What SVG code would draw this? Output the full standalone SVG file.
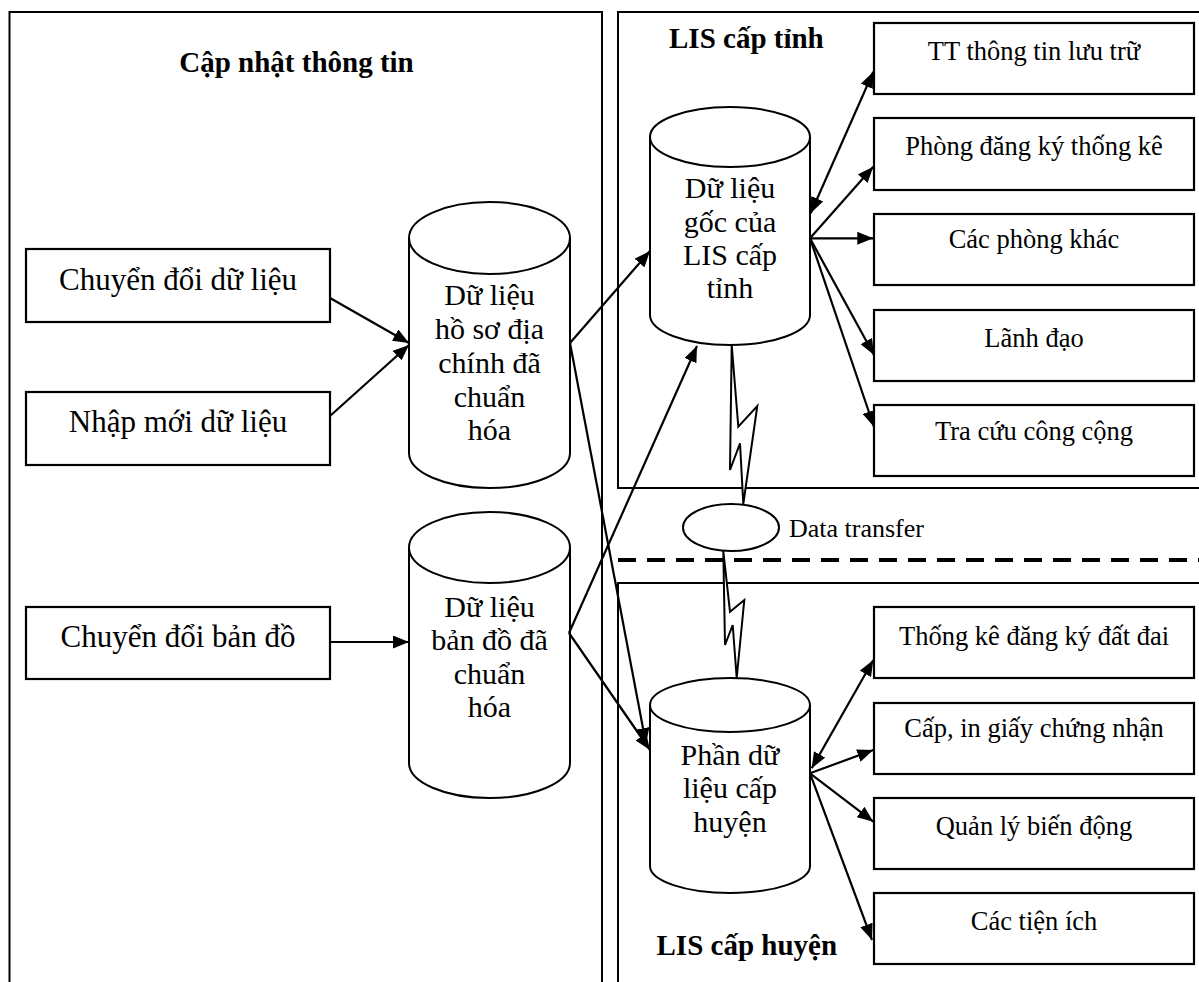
<svg xmlns="http://www.w3.org/2000/svg" width="1199" height="982" viewBox="0 0 1199 982">
  <style>
    .panel { fill: none; stroke: #000; stroke-width: 2; }
    .box { fill: #fff; stroke: #000; stroke-width: 2.2; }
    .cyl { fill: #fff; stroke: #000; stroke-width: 2; }
    .conn { fill: none; stroke: #000; stroke-width: 2.2; }
    .bolt { fill: #fff; stroke: #000; stroke-width: 2; stroke-linejoin: miter; }
    text { font-family: "Liberation Serif", "Times New Roman", serif; fill: #000; }
    .title { font-size: 29px; font-weight: bold; }
    .lbox { font-size: 31px; text-anchor: middle; }
    .cyltxt { font-size: 30px; text-anchor: middle; }
    .rbox { font-size: 26.5px; text-anchor: middle; }
    .note { font-size: 26px; }
  </style>
  <defs>
    <marker id="arrow" markerUnits="userSpaceOnUse" markerWidth="17" markerHeight="13" refX="16" refY="6.5" orient="auto-start-reverse">
      <path d="M0,0 L16,6.5 L0,13 z" fill="#000"/>
    </marker>
  </defs>

  <!-- section frames -->
  <g id="panels">
    <rect class="panel" x="9.5" y="12" width="592.5" height="1000"/>
    <rect class="panel" x="618" y="12" width="600" height="476"/>
    <rect class="panel" x="618" y="583" width="600" height="420"/>
    <line x1="618" y1="560" x2="1199" y2="560" stroke="#000" stroke-width="4" stroke-dasharray="18 11"/>
  </g>

  <g id="titles">
    <text class="title" x="296.5" y="72" text-anchor="middle">Cập nhật thông tin</text>
    <text class="title" x="669" y="48">LIS cấp tỉnh</text>
    <text class="title" x="656.5" y="955">LIS cấp huyện</text>
  </g>

  <!-- input processes -->
  <g id="n-chuyen-doi-du-lieu">
    <rect class="box" x="26" y="249" width="304" height="73"/>
    <text class="lbox" x="178" y="290">Chuyển đổi dữ liệu</text>
  </g>
  <g id="n-nhap-moi">
    <rect class="box" x="26" y="392" width="304" height="73"/>
    <text class="lbox" x="178" y="432">Nhập mới dữ liệu</text>
  </g>
  <g id="n-chuyen-doi-ban-do">
    <rect class="box" x="26" y="607" width="304" height="72"/>
    <text class="lbox" x="178" y="647">Chuyển đổi bản đồ</text>
  </g>

  <!-- databases -->
  <g id="db-ho-so">
    <path class="cyl" d="M409,238 L409,453 A80.5,35 0 0 0 570,453 L570,238"/>
    <ellipse class="cyl" cx="489.5" cy="238" rx="80.5" ry="36"/>
    <text class="cyltxt" x="489.5" y="305">Dữ liệu</text>
    <text class="cyltxt" x="489.5" y="339">hồ sơ địa</text>
    <text class="cyltxt" x="489.5" y="373">chính đã</text>
    <text class="cyltxt" x="489.5" y="406.5">chuẩn</text>
    <text class="cyltxt" x="489.5" y="440">hóa</text>
  </g>
  <g id="db-ban-do">
    <path class="cyl" d="M409,547.5 L409,763 A80.5,35 0 0 0 570,763 L570,547.5"/>
    <ellipse class="cyl" cx="489.5" cy="547.5" rx="80.5" ry="35.5"/>
    <text class="cyltxt" x="489.5" y="617">Dữ liệu</text>
    <text class="cyltxt" x="489.5" y="650">bản đồ đã</text>
    <text class="cyltxt" x="489.5" y="683.5">chuẩn</text>
    <text class="cyltxt" x="489.5" y="717">hóa</text>
  </g>
  <g id="db-tinh">
    <path class="cyl" d="M650,137 L650,315 A80,30 0 0 0 810,315 L810,137"/>
    <ellipse class="cyl" cx="730" cy="137" rx="80" ry="30"/>
    <text class="cyltxt" x="730" y="198">Dữ liệu</text>
    <text class="cyltxt" x="730" y="232">gốc của</text>
    <text class="cyltxt" x="730" y="265">LIS cấp</text>
    <text class="cyltxt" x="730" y="298">tỉnh</text>
  </g>
  <g id="db-huyen">
    <path class="cyl" d="M650,705 L650,866 A80,27 0 0 0 810,866 L810,705"/>
    <ellipse class="cyl" cx="730" cy="705" rx="80" ry="27"/>
    <text class="cyltxt" x="730" y="765">Phần dữ</text>
    <text class="cyltxt" x="730" y="798">liệu cấp</text>
    <text class="cyltxt" x="730" y="832">huyện</text>
  </g>

  <!-- province level consumers -->
  <g id="n-tt-luu-tru">
    <rect class="box" x="874" y="23" width="320" height="71"/>
    <text class="rbox" x="1034" y="60">TT thông tin lưu trữ</text>
  </g>
  <g id="n-phong-dang-ky">
    <rect class="box" x="874" y="118" width="320" height="72"/>
    <text class="rbox" x="1034" y="155">Phòng đăng ký thống kê</text>
  </g>
  <g id="n-cac-phong-khac">
    <rect class="box" x="874" y="214" width="320" height="71"/>
    <text class="rbox" x="1034" y="248">Các phòng khác</text>
  </g>
  <g id="n-lanh-dao">
    <rect class="box" x="874" y="310" width="320" height="71"/>
    <text class="rbox" x="1034" y="347">Lãnh đạo</text>
  </g>
  <g id="n-tra-cuu">
    <rect class="box" x="874" y="405" width="320" height="71"/>
    <text class="rbox" x="1034" y="440">Tra cứu công cộng</text>
  </g>

  <!-- district level consumers -->
  <g id="n-thong-ke">
    <rect class="box" x="874" y="607" width="320" height="71"/>
    <text class="rbox" x="1034" y="645">Thống kê đăng ký đất đai</text>
  </g>
  <g id="n-cap-in">
    <rect class="box" x="874" y="703" width="320" height="71"/>
    <text class="rbox" x="1034" y="737">Cấp, in giấy chứng nhận</text>
  </g>
  <g id="n-quan-ly">
    <rect class="box" x="874" y="798" width="320" height="71"/>
    <text class="rbox" x="1034" y="835">Quản lý biến động</text>
  </g>
  <g id="n-tien-ich">
    <rect class="box" x="874" y="893" width="320" height="71"/>
    <text class="rbox" x="1034" y="930">Các tiện ích</text>
  </g>

  <!-- data transfer link -->
  <g id="n-data-transfer">
    <polygon class="bolt" points="731.7,345 738.3,426.7 757.3,406 743.3,504 740,443.3 730,470"/>
    <polygon class="bolt" points="723.3,551 730,611.7 744.3,600 736.7,678 732.7,625 725,645"/>
    <ellipse class="cyl" cx="731" cy="527.5" rx="48" ry="23.5"/>
    <text class="note" x="789" y="537">Data transfer</text>
  </g>

  <!-- connectors -->
  <g id="connectors" class="conn">
    <line x1="330" y1="298" x2="409" y2="343" marker-end="url(#arrow)"/>
    <line x1="330" y1="416" x2="409" y2="345" marker-end="url(#arrow)"/>
    <line x1="330" y1="642" x2="409" y2="642" marker-end="url(#arrow)"/>

    <line x1="570" y1="343" x2="650" y2="251" marker-end="url(#arrow)"/>
    <line x1="570" y1="343" x2="646" y2="744" marker-end="url(#arrow)"/>
    <line x1="569" y1="633" x2="697" y2="346" marker-end="url(#arrow)"/>
    <line x1="569" y1="633" x2="650" y2="750" marker-end="url(#arrow)"/>

    <line x1="810.7" y1="213.3" x2="873.3" y2="71.7" marker-start="url(#arrow)" marker-end="url(#arrow)"/>
    <line x1="810" y1="238.3" x2="873.3" y2="166.7" marker-end="url(#arrow)"/>
    <line x1="810" y1="238.3" x2="873.3" y2="238.3" marker-end="url(#arrow)"/>
    <line x1="810" y1="238.3" x2="874" y2="355" marker-end="url(#arrow)"/>
    <line x1="810" y1="238.3" x2="874" y2="427" marker-end="url(#arrow)"/>

    <line x1="811.7" y1="768.3" x2="873.3" y2="660" marker-start="url(#arrow)" marker-end="url(#arrow)"/>
    <line x1="810" y1="773.3" x2="873.3" y2="750" marker-end="url(#arrow)"/>
    <line x1="810" y1="773.3" x2="873.3" y2="821.7" marker-end="url(#arrow)"/>
    <line x1="810" y1="773.3" x2="872" y2="940" marker-end="url(#arrow)"/>
  </g>
</svg>
